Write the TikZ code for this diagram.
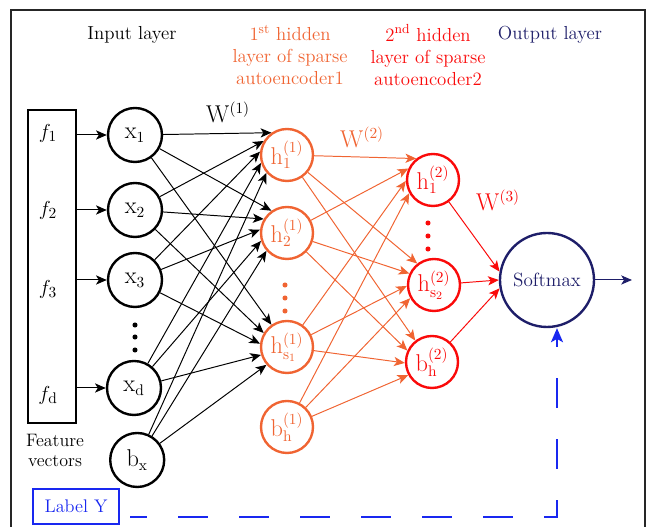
\documentclass[tikz,border=0pt]{standalone}
\usepackage{tikz}
\usetikzlibrary{arrows.meta}

\definecolor{hidorange}{RGB}{240,100,50}
\definecolor{hidred}{RGB}{250,10,10}
\definecolor{outnavy}{RGB}{30,30,105}
\definecolor{labblue}{RGB}{25,40,240}

\tikzset{
	neuron/.style={circle, draw, line width=1.7pt, minimum size=1.3cm, inner sep=0pt, font=\fontsize{16}{19}\selectfont},
	inneuron/.style={neuron, minimum size=1.35cm},
	hidone/.style={neuron, draw=hidorange, text=hidorange},
	hidtwo/.style={neuron, draw=hidred, text=hidred},
	conn/.style={line width=0.7pt, -{Stealth[length=2.7mm,width=2.3mm,inset=0.7mm]}},
	toptitle/.style={align=center, font=\fontsize{13.4}{15.6}\selectfont},
	weight/.style={font=\fontsize{16}{19}\selectfont},
	flabel/.style={font=\fontsize{15}{18}\selectfont},
}

\begin{document}
\begin{tikzpicture}
	%\draw[blue] (0,0) grid (16,13);
	\useasboundingbox (0,0) rectangle (16.325,13.175);
	\draw [line width=1.9pt, black!85] (0.275,-0.5) -- (0.275,12.925) -- (16.125,12.925) -- (16.125,-0.5);

	% titles
	\node [toptitle] at (3.3,12.3) {Input layer};
	\node [toptitle, text=hidorange] at (7.25,11.8) {1\textsuperscript{st} hidden\\layer of sparse\\autoencoder1};
	\node [toptitle, text=hidred] at (10.7,11.8) {2\textsuperscript{nd} hidden\\layer of sparse\\autoencoder2};
	\node [toptitle, text=outnavy] at (13.75,12.3) {Output layer};

	% feature vectors
	\node [draw, line width=1.5pt, minimum width=1.2cm, minimum height=7.825cm] (fv) at (1.3,6.5125) {};
	\node [flabel] (f1) at (1.2,9.85) {$f_1$};
	\node [flabel] (f2) at (1.2,7.925) {$f_2$};
	\node [flabel] (f3) at (1.2,5.95) {$f_3$};
	\node [flabel] (fd) at (1.2,3.3) {$f_{\mathrm{d}}$};
	\node [align=center, font=\fontsize{12.8}{14.2}\selectfont] at (1.375,1.925) {Feature\\vectors};

	% input layer
	\node [inneuron] (x1) at (3.375,9.8) {$\mathrm{x}_1$};
	\node [inneuron] (x2) at (3.375,7.925) {$\mathrm{x}_2$};
	\node [inneuron] (x3) at (3.375,6.175) {$\mathrm{x}_3$};
	\node [inneuron] (xd) at (3.35,3.475) {$\mathrm{x}_{\mathrm{d}}$};
	\node [inneuron] (bx) at (3.43,1.675) {$\mathrm{b}_{\mathrm{x}}$};
	\foreach \y in {5.05,4.75,4.425} \fill (3.375,\y) circle (1.8pt);
	\foreach \n in {x1,x2,x3,xd} \draw [conn] (fv.east |- \n) -- (\n);

	% 1st hidden layer
	\node [hidone] (ha1) at (7.175,9.3) {$\mathrm{h}^{(1)}_{1}$};
	\node [hidone] (ha2) at (7.175,7.35) {$\mathrm{h}^{(1)}_{2}$};
	\node [hidone] (has) at (7.175,4.5) {$\mathrm{h}^{(1)}_{\mathrm{s}_1}$};
	\node [hidone] (hab) at (7.175,2.5) {$\mathrm{b}^{(1)}_{\mathrm{h}}$};
	\foreach \y in {6.05,5.725,5.4} \fill [hidorange] (7.125,\y) circle (1.8pt);
	\foreach \s/\a in {x1/125,x2/149,x3/173,xd/197,bx/221}
		\foreach \t in {ha1,ha2,has} \draw [conn] (\s) -- (\t.\a);

	% 2nd hidden layer
	\node [hidtwo] (hb1) at (10.825,8.675) {$\mathrm{h}^{(2)}_{1}$};
	\node [hidtwo] (hbs) at (10.85,6.05) {$\mathrm{h}^{(2)}_{\mathrm{s}_2}$};
	\node [hidtwo] (hbb) at (10.8,4.125) {$\mathrm{b}^{(2)}_{\mathrm{h}}$};
	\foreach \y in {7.6,7.275,6.95} \fill [hidred] (10.7,\y) circle (1.8pt);
	\foreach \s/\a in {ha1/128,ha2/155,has/182,hab/209}
		\foreach \t in {hb1,hbs,hbb} \draw [conn, hidorange] (\s) -- (\t.\a);

	% output layer
	\node [neuron, draw=outnavy, text=outnavy, minimum size=2.35cm, font=\fontsize{13.6}{15}\selectfont] (sm) at (13.675,6.175) {Softmax};
	\draw [conn, hidred] (hb1) -- (sm.170);
	\draw [conn, hidred] (hbs) -- (sm.180);
	\draw [conn, hidred] (hbb) -- (sm.190);
	\coordinate (out) at (15.8,6.175);
	\draw [conn, outnavy] (sm) -- (out);

	% weights
	\node [weight] at (5.7,10.375) {$\mathrm{W}^{(1)}$};
	\node [weight, text=hidorange] at (9.05,9.75) {$\mathrm{W}^{(2)}$};
	\node [weight, text=hidred] at (12.45,8.175) {$\mathrm{W}^{(3)}$};

	% label
	\node [draw=labblue, text=labblue, line width=1pt, minimum width=2.15cm, minimum height=0.875cm, font=\fontsize{13}{15}\selectfont] (lab) at (1.9,0.5125) {Label Y};
	\coordinate (ly) at (3.25,0.25);
	\coordinate (yc) at (13.925,0.25);
	\draw [labblue, line width=1.4pt, dash pattern=on 0.75cm off 0.775cm, dash phase=0.325cm, -{Stealth[length=3.5mm,width=3mm,inset=0.8mm]}] (ly) -- (yc) -- (yc |- sm.south);
\end{tikzpicture}
\end{document}
